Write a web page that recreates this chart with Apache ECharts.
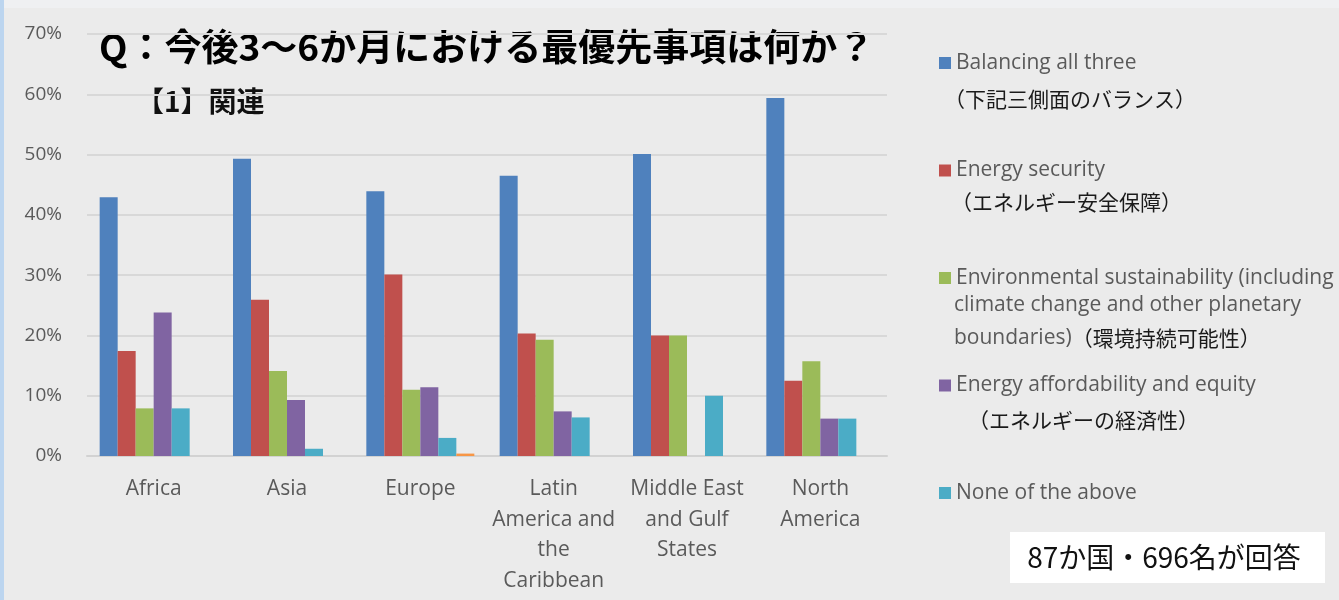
<!DOCTYPE html>
<html>
<head>
<meta charset="utf-8">
<script src="https://cdn.jsdelivr.net/npm/echarts@6/dist/echarts.min.js"></script>
<style>
html,body{margin:0;padding:0;background:#ebebeb;}
#c{width:1339px;height:600px;}
</style>
</head>
<body>
<div id="c"></div>
<script>
const categories = ['Africa', 'Asia', 'Europe', 'Latin\nAmerica and\nthe\nCaribbean', 'Middle East\nand Gulf\nStates', 'North\nAmerica'];
const seriesNames = ['Balancing all three', 'Energy security', 'Environmental sustainability (including', 'Energy affordability and equity', 'None of the above', 'Other'];
const balancing = [42.9, 49.3, 43.9, 46.5, 50.1, 59.4];
const security = [17.4, 25.9, 30.1, 20.3, 20.0, 12.5];
const environment = [7.9, 14.1, 11.0, 19.3, 20.0, 15.7];
const affordability = [23.8, 9.3, 11.4, 7.4, 0, 6.2];
const noneAbove = [7.9, 1.2, 3.0, 6.4, 10.0, 6.2];
const other = [0, 0, 0.4, 0, 0, 0];
const yTicks = [0, 10, 20, 30, 40, 50, 60, 70];

const colors = ['#4f81bd', '#c0504d', '#9bbb59', '#8064a2', '#4bacc6', '#f79646'];
const seriesData = [balancing, security, environment, affordability, noneAbove, other];

const EN = '"Open Sans", sans-serif';
const JP = '"Noto Sans CJK JP", sans-serif';

const chart = echarts.init(document.getElementById('c'), null, {renderer: 'canvas'});
chart.setOption({
  backgroundColor: '#ebebeb',
  animation: false,
  color: colors,
  grid: {left: 87, right: 452, top: 34, bottom: 144, containLabel: false},
  xAxis: {
    type: 'category',
    data: categories,
    axisTick: {show: false},
    axisLine: {lineStyle: {color: '#d2d2d2', width: 2}},
    axisLabel: {interval: 0, color: '#5a5a5a', fontFamily: EN, fontSize: 21, lineHeight: 30.5, margin: 18}
  },
  yAxis: {
    type: 'value',
    min: yTicks[0],
    max: yTicks[yTicks.length - 1],
    interval: 10,
    axisLine: {show: false},
    axisTick: {show: false},
    splitLine: {lineStyle: {color: '#d8d8d8', width: 2}},
    axisLabel: {formatter: '{value}%', color: '#5a5a5a', fontFamily: EN, fontSize: 19, margin: 25}
  },
  legend: {
    orient: 'vertical',
    left: 934,
    top: 46,
    itemWidth: 12,
    itemHeight: 12,
    itemGap: 83.5,
    icon: 'rect',
    data: seriesNames.slice(0, 5),
    textStyle: {color: '#5a5a5a', fontFamily: EN, fontSize: 21, lineHeight: 24}
  },
  series: seriesNames.map((n, i) => ({
    name: n,
    type: 'bar',
    data: seriesData[i],
    barWidth: 18,
    barGap: '0%',
    itemStyle: {color: colors[i]}
  })),
  graphic: [
    {type: 'rect', left: 0, top: 0, shape: {width: 1339, height: 8}, style: {fill: '#eff0f2'}, silent: true},
    {type: 'rect', left: 0, top: 0, shape: {width: 4, height: 600}, style: {fill: '#bcd5ef'}, silent: true},
    {type: 'text', x: 99, y: 47, style: {text: 'Q：今後3〜6か月における最優先事項は何か？', font: 'bold 37px "Noto Sans CJK JP"', fill: '#000', verticalAlign: 'middle'}},
    {type: 'text', x: 136, y: 101, style: {text: '【1】関連', font: 'bold 28px "Noto Sans CJK JP"', fill: '#111', verticalAlign: 'middle'}},
    {type: 'text', x: 944, y: 99, style: {text: '（下記三側面のバランス）', font: '21px "Noto Sans CJK JP"', fill: '#1a1a1a', verticalAlign: 'middle'}},
    {type: 'text', x: 951, y: 202, style: {text: '（エネルギー安全保障）', font: '21px "Noto Sans CJK JP"', fill: '#1a1a1a', verticalAlign: 'middle'}},
    {type: 'text', x: 954, y: 305, style: {text: 'climate change and other planetary', font: '21px "Open Sans"', fill: '#5a5a5a', verticalAlign: 'middle'}},
    {type: 'text', x: 954, y: 338, style: {
      text: '{en|boundaries)}{jp|（環境持続可能性）}', verticalAlign: 'middle',
      rich: {
        en: {fontFamily: 'Open Sans', fontSize: 21, fill: '#5a5a5a', color: '#5a5a5a'},
        jp: {fontFamily: 'Noto Sans CJK JP', fontSize: 21, fill: '#1a1a1a', color: '#1a1a1a'}
      }
    }},
    {type: 'text', x: 968, y: 420, style: {text: '（エネルギーの経済性）', font: '21px "Noto Sans CJK JP"', fill: '#1a1a1a', verticalAlign: 'middle'}},
    {type: 'rect', left: 1010, top: 532, shape: {width: 315, height: 51}, style: {fill: '#ffffff'}, silent: true},
    {type: 'text', x: 1164, y: 557, style: {text: '87か国・696名が回答', font: '28px "Noto Sans CJK JP"', fill: '#111', align: 'center', verticalAlign: 'middle'}}
  ]
});
</script>
</body>
</html>
